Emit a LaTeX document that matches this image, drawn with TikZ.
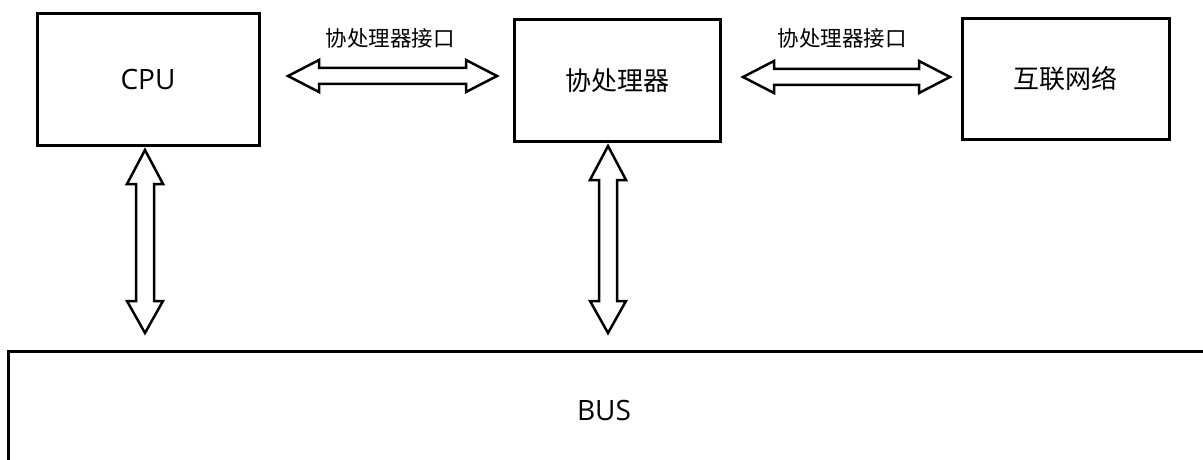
\documentclass[tikz,border=0pt]{standalone}
\usepackage{fontspec}
\setmainfont{Open Sans}
\newfontfamily\cjk{Noto Sans CJK SC}
\usetikzlibrary{calc}
\tikzset{
  box/.style={draw=black, line width=3pt, fill=white, inner sep=0pt, font=\fontsize{28}{33}\selectfont},
  blockarrow/.style={draw=black, line width=2.5pt, fill=white, line join=miter},
  lbl/.style={font=\cjk\fontsize{21.5}{26}\selectfont, inner sep=0pt},
}
\newcommand{\hdarrow}[2]{%
  \path[blockarrow] let \p1=(#1), \p2=(#2) in
    (\x1,\y1) -- (\x1+31pt,\y1+16pt) -- (\x1+31pt,\y1+8pt) -- (\x2-31pt,\y1+8pt) -- (\x2-31pt,\y1+16pt)
    -- (\x2,\y1) -- (\x2-31pt,\y1-16pt) -- (\x2-31pt,\y1-8pt) -- (\x1+31pt,\y1-8pt) -- (\x1+31pt,\y1-16pt) -- cycle;}
\newcommand{\vdarrow}[2]{%
  \path[blockarrow] let \p1=(#1), \p2=(#2) in
    (\x1,\y1) -- (\x1+18pt,\y1-34pt) -- (\x1+9pt,\y1-34pt) -- (\x1+9pt,\y2+32pt) -- (\x1+18pt,\y2+32pt)
    -- (\x1,\y2) -- (\x1-18pt,\y2+32pt) -- (\x1-9pt,\y2+32pt) -- (\x1-9pt,\y1-34pt) -- (\x1-18pt,\y1-34pt) -- cycle;}
\begin{document}
\begin{tikzpicture}[x=1pt,y=-1pt]
\useasboundingbox (0,0) rectangle (1203,460);
\clip (0,0) rectangle (1203,460);
\fill[white] (0,0) rectangle (1203,460);
% boxes
\node[box, minimum width=222pt, minimum height=131pt] (cpu) at (148,79.5) {CPU};
\node[box, minimum width=206pt, minimum height=121pt, font=\cjk\fontsize{26}{31}\selectfont] (cop) at (617,80.5) {协处理器};
\node[box, minimum width=207pt, minimum height=120pt, font=\cjk\fontsize{26}{31}\selectfont] (net) at (1065.5,79) {互联网络};
\node[box, minimum width=1204pt, minimum height=120pt] (bus) at (610,411) {};
\node[font=\fontsize{28}{33}\selectfont, inner sep=0pt] (bustext) at (604,410) {BUS};
% arrow end points
\coordinate (a1l) at (288,76);
\coordinate (a1r) at (497,76);
\coordinate (a2l) at (743,77);
\coordinate (a2r) at (950,77);
\coordinate (v1t) at (145,150);
\coordinate (v1b) at (145,333);
\coordinate (v2t) at (608,146);
\coordinate (v2b) at (608,333);
\hdarrow{a1l}{a1r}
\hdarrow{a2l}{a2r}
\vdarrow{v1t}{v1b}
\vdarrow{v2t}{v2b}
% labels
\node[lbl] (l1) at (390,38) {协处理器接口};
\node[lbl] (l2) at (842,38) {协处理器接口};
\end{tikzpicture}
\end{document}
